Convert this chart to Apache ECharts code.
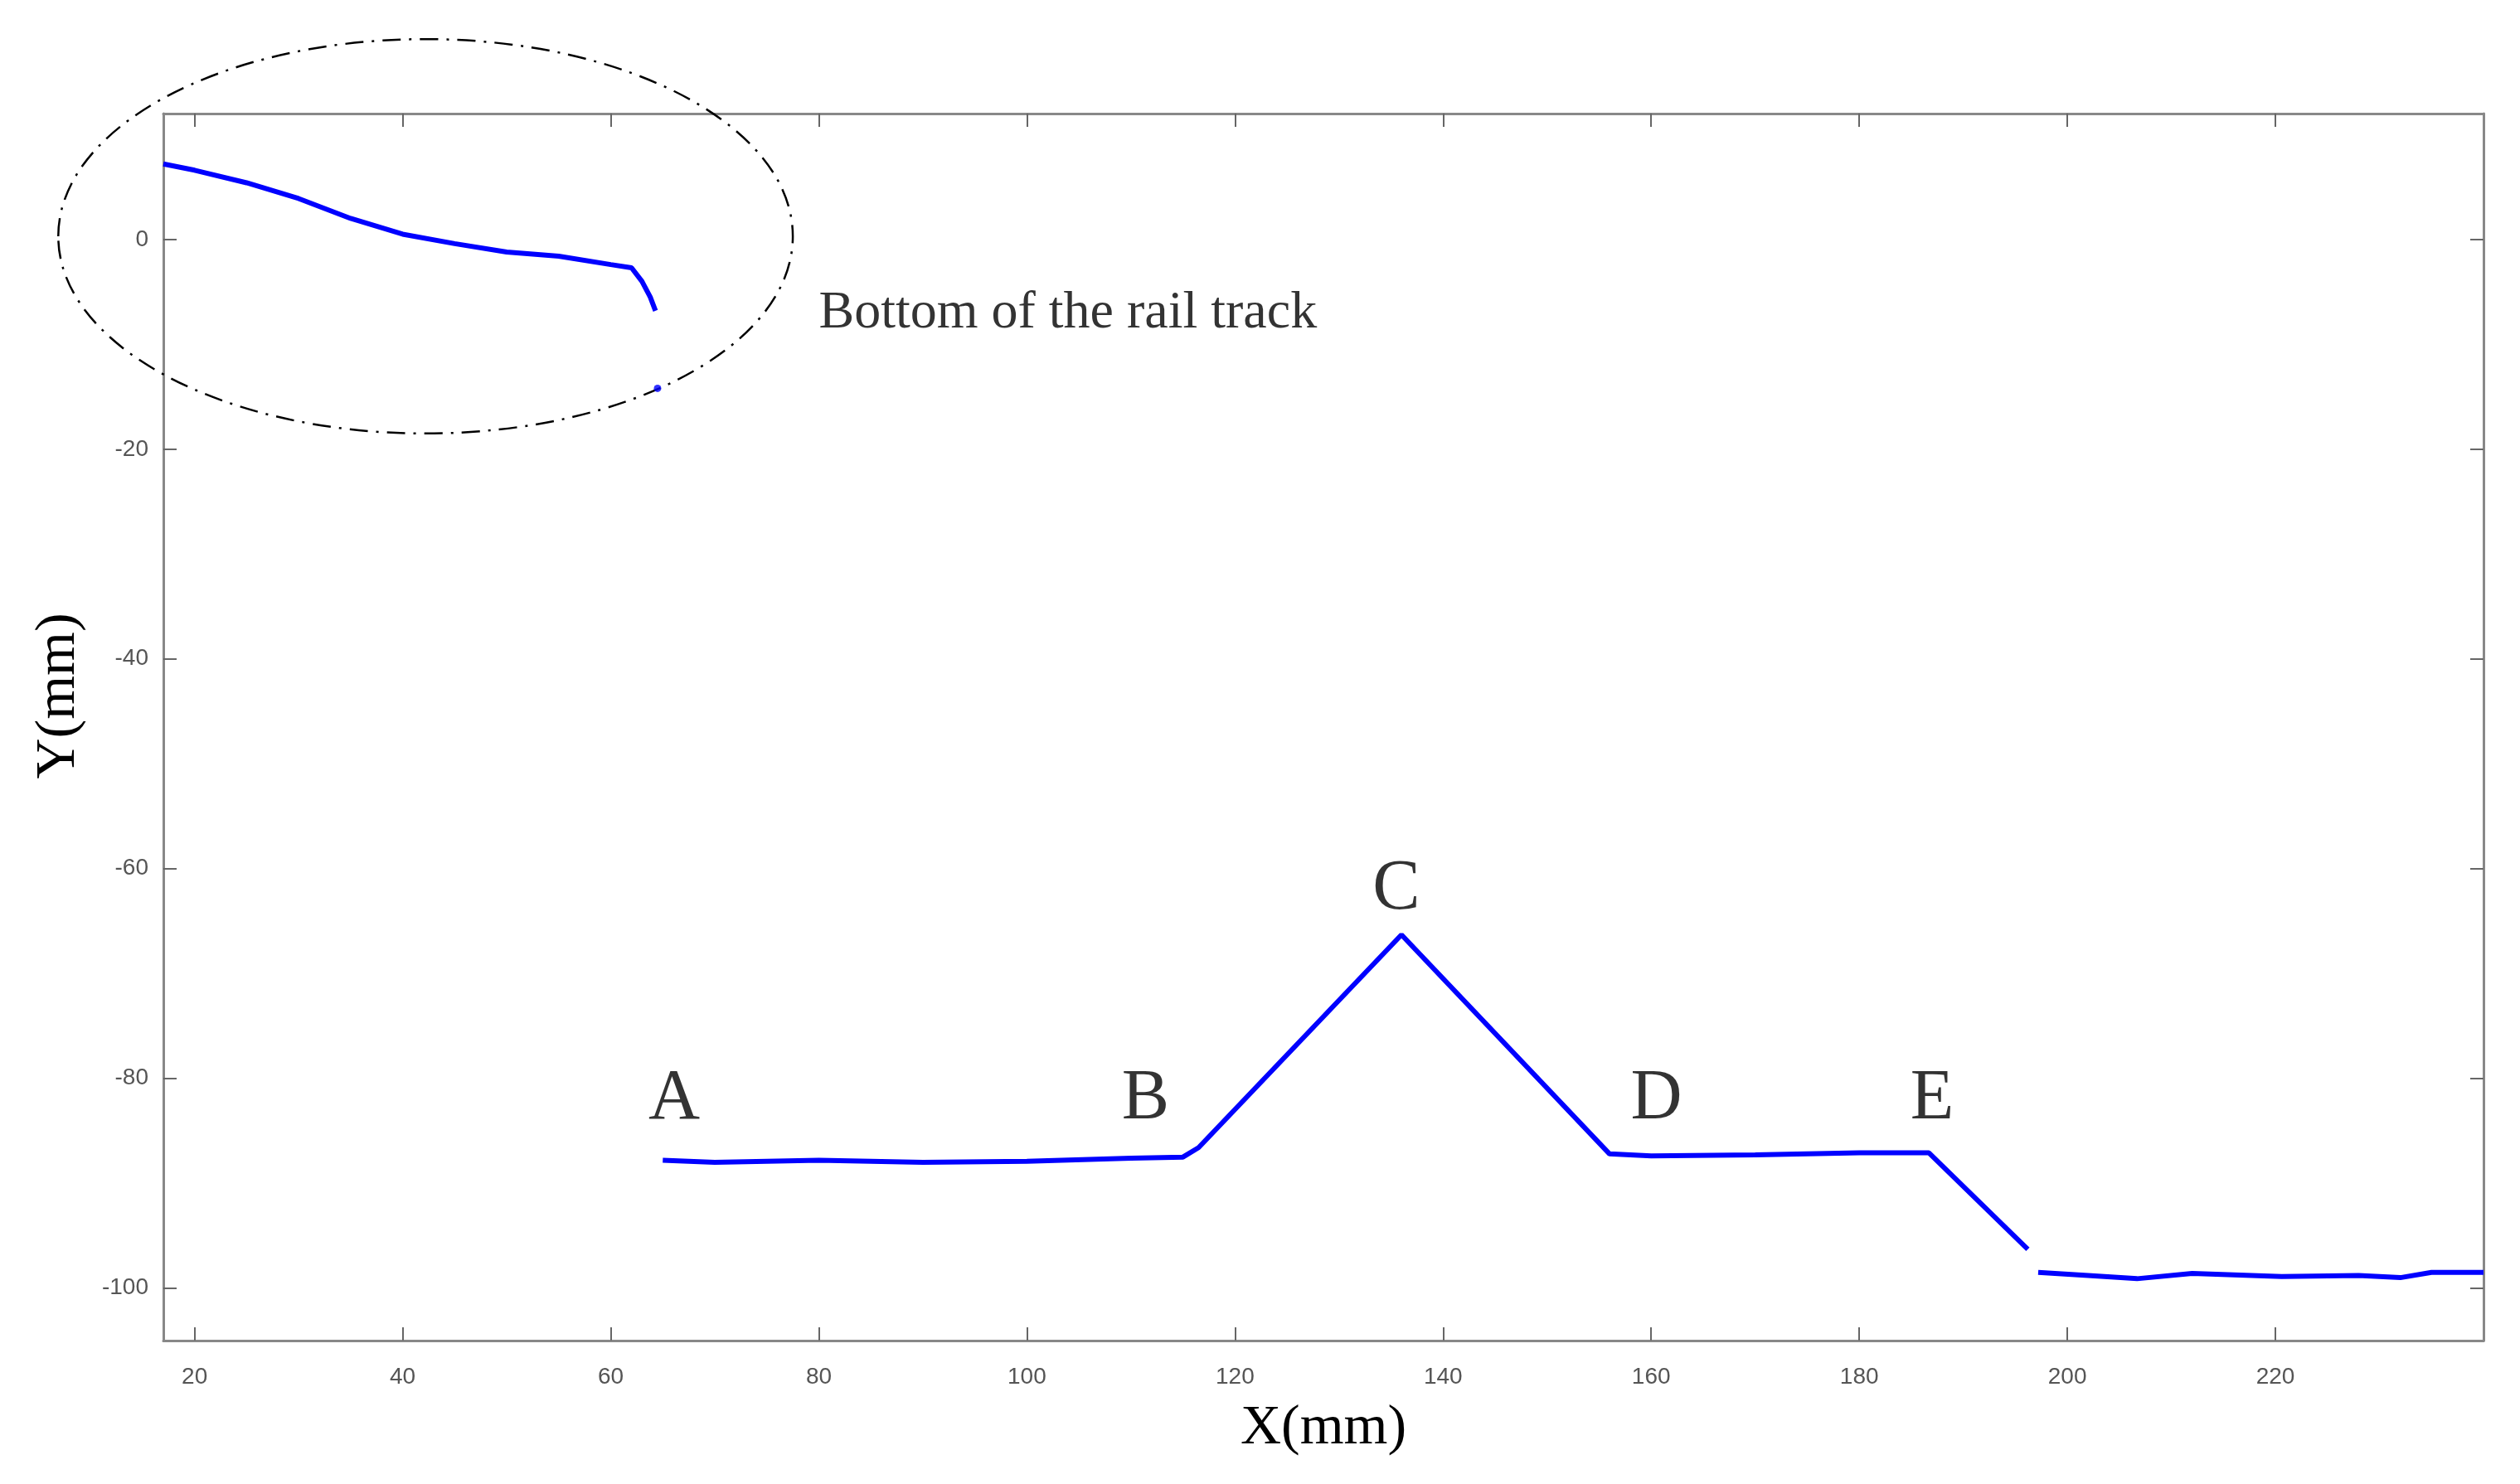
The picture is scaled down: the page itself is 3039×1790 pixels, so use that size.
<!DOCTYPE html>
<html lang="en" style="height: 100%">
<head>
    <meta charset="UTF-8">
    <title>Rail profile</title>
    <script src="https://cdn.jsdelivr.net/npm/echarts@6/dist/echarts.min.js"></script>
</head>
<body style="height: 100%; margin: 0">
<div id="main" style="height: 100%"></div>
<script>
    // bottom of rail (circled) part
    var railBottom = [[17, 7.2], [20, 6.6], [25, 5.4], [30, 3.9], [35, 2.0], [40, 0.5], [45, -0.4],
        [50, -1.2], [55, -1.6], [60, -2.4], [62, -2.7], [63, -4.0], [63.8, -5.5], [64.3, -6.8]];
    var strayPoint = [[64.5, -14.2]];
    // main profile A..E and beyond
    var profile = [[65, -87.8], [70, -88.0], [80, -87.8], [90, -88.0], [100, -87.9], [110, -87.6],
        [115, -87.5], [116.5, -86.6], [136, -66.3], [156, -87.2], [160, -87.4], [170, -87.3],
        [180, -87.1], [186.7, -87.1], [196.2, -96.3], null, [197.2, -98.5], [202, -98.8],
        [206.7, -99.1], [212, -98.6], [220.6, -98.9], [228, -98.8], [232, -99.0], [235, -98.5], [240, -98.5]];
    var pointLabels = [['A', 66.1, -82], ['B', 111.4, -82], ['C', 135.5, -62], ['D', 160.5, -82], ['E', 187, -82]];
    var xTicks = [20, 40, 60, 80, 100, 120, 140, 160, 180, 200, 220];
    var yTicks = [0, -20, -40, -60, -80, -100];

    var gray = '#555';
    function xAx(show) {
        return {
            type: 'value', min: 17, max: 240, position: show ? 'bottom' : 'top',
            name: show ? 'X(mm)' : '', nameLocation: 'middle', nameGap: 72,
            nameTextStyle: {fontFamily: 'Liberation Serif', fontSize: 68, color: '#000'},
            axisLine: {onZero: false, lineStyle: {color: '#888', width: 3}},
            axisTick: {inside: true, length: 16, customValues: xTicks, lineStyle: {color: '#666', width: 2}},
            axisLabel: {show: show, customValues: xTicks, margin: 30, fontSize: 28, color: gray, fontFamily: 'Liberation Sans'},
            splitLine: {show: false}
        };
    }
    function yAx(show) {
        return {
            type: 'value', min: -105, max: 12, position: show ? 'left' : 'right',
            name: show ? 'Y(mm)' : '', nameLocation: 'middle', nameGap: 92,
            nameTextStyle: {fontFamily: 'Liberation Serif', fontSize: 68, color: '#000', padding: [0, 0, 0, 75]},
            axisLine: {onZero: false, lineStyle: {color: '#888', width: 3}},
            axisTick: {inside: true, length: 16, customValues: yTicks, lineStyle: {color: '#666', width: 2}},
            axisLabel: {show: show, customValues: yTicks, margin: 18, fontSize: 28, color: gray, fontFamily: 'Liberation Sans'},
            splitLine: {show: false}
        };
    }

    var myChart = echarts.init(document.getElementById('main'));
    myChart.setOption({
        animation: false,
        backgroundColor: '#fff',
        grid: {left: 197, right: 44, top: 137, bottom: 173},
        xAxis: [xAx(true), xAx(false)],
        yAxis: [yAx(true), yAx(false)],
        series: [
            {type: 'line', data: railBottom, showSymbol: false, lineStyle: {color: '#0000ff', width: 6}},
            {type: 'scatter', data: strayPoint, symbolSize: 9, itemStyle: {color: '#0000ff'}, z: 12},
            {type: 'line', data: profile, showSymbol: false, connectNulls: false, lineStyle: {color: '#0000ff', width: 6}},
            {
                type: 'scatter', symbolSize: 0,
                data: pointLabels.map(function (p) { return {name: p[0], value: [p[1], p[2]]}; }),
                label: {show: true, position: 'inside', formatter: '{b}', fontFamily: 'Liberation Serif', fontSize: 86, color: '#000'}
            },
            {
                type: 'scatter', symbolSize: 0,
                data: [{name: 'Bottom of the rail track', value: [80, -7.1]}],
                label: {show: true, position: 'right', distance: 0, formatter: '{b}', fontFamily: 'Liberation Serif', fontSize: 64, color: '#000'}
            }
        ]
    });

    // dash-dot ellipse around the rail bottom
    var c = myChart.convertToPixel({gridIndex: 0}, [42.2, 0.3]);
    var e = myChart.convertToPixel({gridIndex: 0}, [42.2 + 35.3, 0.3 - 18.8]);
    myChart.setOption({
        graphic: [{
            type: 'ellipse',
            shape: {cx: c[0], cy: c[1], rx: e[0] - c[0], ry: e[1] - c[1]},
            style: {fill: null, stroke: '#000', lineWidth: 2.5, lineDash: [22, 10, 3, 10]},
            z: 10
        }]
    });
</script>
</body>
</html>
